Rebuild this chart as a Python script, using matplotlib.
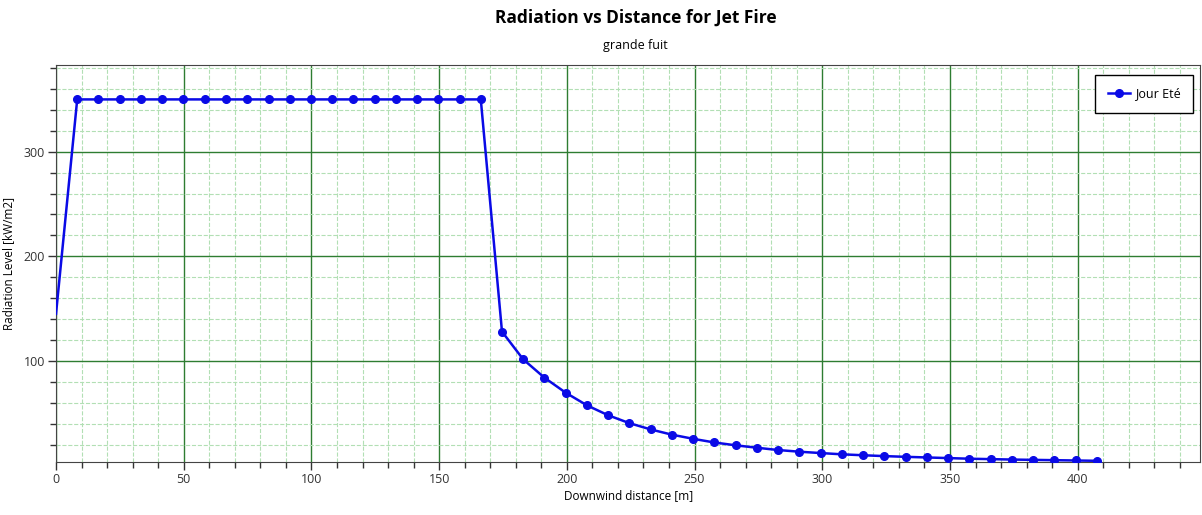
import numpy as np
import matplotlib.pyplot as plt
from matplotlib.ticker import MultipleLocator

plt.rcParams['font.family'] = ['Open Sans', 'DejaVu Sans']

# Downwind distance [m]
distance = [0.0, 8.3, 16.6, 24.9, 33.3, 41.6, 49.9, 58.2, 66.5, 74.8,
            83.2, 91.5, 99.8, 108.1, 116.4, 124.7, 133.0, 141.4, 149.7, 158.0,
            166.3, 174.6, 182.9, 191.2, 199.6, 207.9, 216.2, 224.5, 232.8, 241.1,
            249.5, 257.8, 266.1, 274.4, 282.7, 291.0, 299.4, 307.7, 316.0, 324.3,
            332.6, 340.9, 349.3, 357.6, 365.9, 374.2, 382.5, 390.8, 399.2, 407.5]

# Radiation level [kW/m2]
radiation = [145, 350, 350, 350, 350, 350, 350, 350, 350, 350,
             350, 350, 350, 350, 350, 350, 350, 350, 350, 350,
             350, 128, 101.5, 84, 69.5, 57.5, 48, 40.5, 34.5, 29.5,
             25.5, 22, 19.3, 17, 14.8, 13.2, 11.9, 10.7, 9.8, 9.0,
             8.3, 7.7, 7.1, 6.5, 6.1, 5.7, 5.4, 5.1, 4.8, 4.5]

series_name = 'Jour Eté'


def main():
    fig = plt.figure(figsize=(12.02, 5.15), dpi=100)
    ax = fig.add_axes([0.0466, 0.103, 0.952, 0.771])

    ax.plot(distance, radiation, color='#0a0ae6', linewidth=1.8,
            marker='o', markersize=5.5, markevery=slice(1, None),
            label=series_name, zorder=3)

    ax.set_xlim(0, 448)
    ax.set_ylim(3.4, 383)
    ax.xaxis.set_major_locator(MultipleLocator(50))
    ax.xaxis.set_minor_locator(MultipleLocator(10))
    ax.yaxis.set_major_locator(MultipleLocator(100))
    ax.yaxis.set_minor_locator(MultipleLocator(20))

    ax.grid(True, which='major', color='#2e7d32', linewidth=1.0, linestyle='-')
    ax.grid(True, which='minor', color='#b2dfb4', linewidth=0.8, linestyle='--')
    ax.set_axisbelow(True)

    ax.tick_params(which='major', direction='out', length=6, width=1,
                   labelsize=9, colors='#333333', pad=2)
    ax.tick_params(which='minor', direction='out', length=4, width=1,
                   colors='#333333')
    for s in ax.spines.values():
        s.set_color('#444444')

    ax.set_xlabel('Downwind distance [m]', fontsize=8.5, labelpad=2)
    ax.set_ylabel('Radiation Level [kW/m2]', fontsize=8.5, labelpad=6)

    fig.text(0.529, 0.965, 'Radiation vs Distance for Jet Fire', ha='center',
             va='center', fontsize=12.5, fontweight='bold')
    fig.text(0.529, 0.912, 'grande fuit', ha='center', va='center', fontsize=9)

    leg = ax.legend(loc='upper right', fontsize=9, fancybox=False,
                    framealpha=1, edgecolor='black', borderpad=1.0,
                    borderaxespad=0, handlelength=1.8, handletextpad=0.4,
                    bbox_to_anchor=(0.994, 0.975))
    leg.get_frame().set_linewidth(1.0)

    fig.savefig('out.png', dpi=100)


if __name__ == '__main__':
    main()
